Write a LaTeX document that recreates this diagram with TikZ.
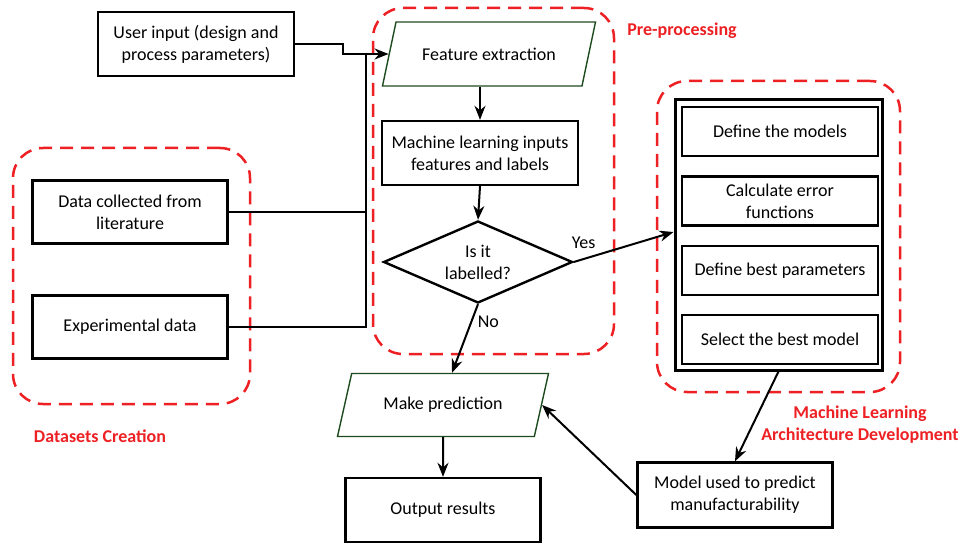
\documentclass[tikz,border=0pt]{standalone}
\usepackage{fontspec}
\setmainfont{Carlito}
\usepackage{tikz}
\usetikzlibrary{shapes.geometric, arrows, arrows.meta, positioning, calc}
\definecolor{dashred}{RGB}{237,32,36}
\definecolor{darkgreen}{RGB}{30,75,30}
\tikzstyle{process} = [rectangle, minimum width=196pt, minimum height=64pt, inner sep=0pt, align=center, draw=black, line width=2.4pt]
\tikzstyle{substep} = [process, minimum height=49pt]
\tikzstyle{io} = [trapezium, trapezium left angle=77, trapezium right angle=103, trapezium stretches body, minimum width=213pt, minimum height=64pt, inner xsep=0pt, inner ysep=23pt, align=center, draw=darkgreen, line width=1.4pt]
\tikzstyle{decision} = [diamond, aspect=2.3, minimum width=189pt, minimum height=82pt, inner sep=0pt, align=center, draw=black, line width=2.4pt]
\tikzstyle{group} = [rectangle, rounded corners=30pt, draw=dashred, line width=2.5pt, dash pattern=on 13pt off 8pt]
\tikzstyle{grouplabel} = [text=dashred, font=\fontsize{18}{22}\selectfont\bfseries, align=center]
\tikzstyle{arrow} = [line width=2pt, -{Stealth[length=14pt,width=11pt]}]
\tikzstyle{line} = [line width=2pt]

\begin{document}
\begin{tikzpicture}[x=1pt, y=1pt, node distance=18pt, font=\fontsize{18}{22}\selectfont]
\useasboundingbox (0,0) rectangle (959,542);

% dashed groups
\node (prebox) [group, minimum width=241pt, minimum height=346pt] at (493.5,361) {};
\node (dsbox) [group, minimum width=237pt, minimum height=256pt] at (131.5,266) {};
\node (mlbox) [group, minimum width=243pt, minimum height=311pt] at (778.5,305.5) {};

\node (prelabel) [grouplabel] at (682,511) {Pre-processing};
\node (dslabel) [grouplabel] at (100,106) {Datasets Creation};
\node (mllabel) [grouplabel] at (860,117) {Machine Learning\\Architecture Development};

% inputs
\node (user) [process] at (196,498) {User input (design and\\process parameters)};
\node (data) [process, minimum width=195pt, minimum height=63pt] at (130,330) {Data collected from\\literature};
\node (exp) [process, minimum width=195pt, minimum height=63pt] at (130,215) {Experimental data};

% pre-processing
\node (feat) [io] at (489,488) {Feature extraction};
\node (mlin) [process] at (480,389) {Machine learning inputs\\features and labels};
\node (label) [decision] at (478,280) {Is it\\labelled?};

% machine learning architecture
\node (mlarch) [rectangle, draw=black, line width=3pt, minimum width=207pt, minimum height=270pt] at (778.5,307) {};
\node (models) [substep] at (780,410.5) {Define the models};
\node (error) [substep, below=of models] {Calculate error\\functions};
\node (params) [substep, below=of error] {Define best parameters};
\node (select) [substep, below=of params] {Select the best model};

% outputs
\node (model) [process, minimum width=195pt, minimum height=65pt] at (735,47) {Model used to predict\\manufacturability};
\node (pred) [io, minimum width=211pt, minimum height=63pt] at (443,137) {Make prediction};
\node (out) [process, minimum width=195pt] at (443,32) {Output results};

\coordinate (join) at (366,488);

\draw [arrow] (user.east) -- ++(48,0) |- (feat.west);
\draw [line] (data.east) -| (join);
\draw [line] (exp.east) -| (join);
\draw [arrow] (feat.south -| mlin.north) -- (mlin.north);
\draw [arrow] (mlin.south) -- (label.north);
\draw [arrow] (label.east) -- node [above, pos=0.1, yshift=6pt] {Yes} ($(mlarch.west)+(0,3)$);
\draw [arrow] (label.south) -- node [right, pos=0.25, xshift=2pt] {No} ($(pred.north)+(9,0)$);
\draw [arrow] (mlarch.south) -- (model.north);
\draw [arrow] (model.west) -- (pred.east);
\draw [arrow] (pred.south) -- (out.north);

\end{tikzpicture}
\end{document}
